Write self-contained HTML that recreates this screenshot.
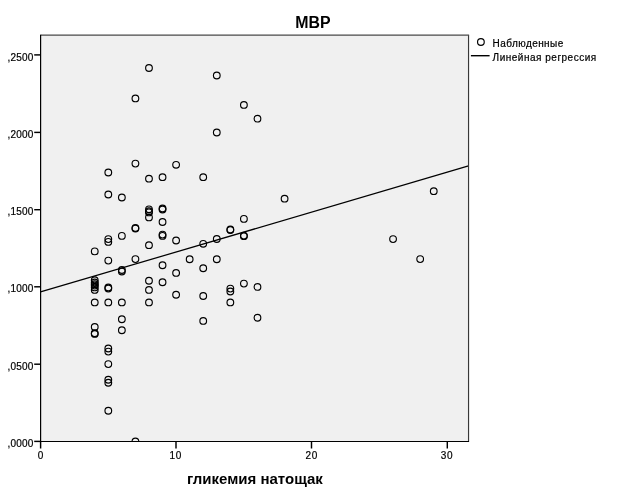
<!DOCTYPE html>
<html lang="ru"><head><meta charset="utf-8"><title>МВР</title>
<style>
html,body{margin:0;padding:0;background:#fff;}
svg{display:block;will-change:transform;font-family:"Liberation Sans",Arial,sans-serif;}
</style></head><body>
<svg width="626" height="501" viewBox="0 0 626 501">
<rect x="0" y="0" width="626" height="501" fill="#fff"/>
<rect x="40.5" y="35.2" width="428" height="406.3" fill="#f0f0f0"/>
<defs><clipPath id="pc"><rect x="40.5" y="35.2" width="428" height="406.3"/></clipPath></defs>
<g clip-path="url(#pc)" fill="none" stroke="#000" stroke-width="1.15">
<circle cx="94.74" cy="251.4" r="3.35"/>
<circle cx="94.74" cy="280.2" r="3.35"/>
<circle cx="94.74" cy="282.5" r="3.35"/>
<circle cx="94.74" cy="284.3" r="3.35"/>
<circle cx="94.74" cy="285.6" r="3.35"/>
<circle cx="94.74" cy="287.4" r="3.35"/>
<circle cx="94.74" cy="289.9" r="3.35"/>
<circle cx="94.74" cy="302.4" r="3.35"/>
<circle cx="94.74" cy="327.0" r="3.35"/>
<circle cx="94.74" cy="333.3" r="3.35"/>
<circle cx="94.74" cy="333.9" r="3.35"/>
<circle cx="108.30" cy="172.5" r="3.35"/>
<circle cx="108.30" cy="194.5" r="3.35"/>
<circle cx="108.30" cy="239.1" r="3.35"/>
<circle cx="108.30" cy="241.9" r="3.35"/>
<circle cx="108.30" cy="260.6" r="3.35"/>
<circle cx="108.30" cy="287.4" r="3.35"/>
<circle cx="108.30" cy="288.5" r="3.35"/>
<circle cx="108.30" cy="302.4" r="3.35"/>
<circle cx="108.30" cy="348.5" r="3.35"/>
<circle cx="108.30" cy="351.6" r="3.35"/>
<circle cx="108.30" cy="364.1" r="3.35"/>
<circle cx="108.30" cy="379.7" r="3.35"/>
<circle cx="108.30" cy="382.8" r="3.35"/>
<circle cx="108.30" cy="410.7" r="3.35"/>
<circle cx="121.86" cy="197.5" r="3.35"/>
<circle cx="121.86" cy="235.9" r="3.35"/>
<circle cx="121.86" cy="270.0" r="3.35"/>
<circle cx="121.86" cy="271.5" r="3.35"/>
<circle cx="121.86" cy="302.4" r="3.35"/>
<circle cx="121.86" cy="319.2" r="3.35"/>
<circle cx="121.86" cy="330.3" r="3.35"/>
<circle cx="135.42" cy="98.4" r="3.35"/>
<circle cx="135.42" cy="163.6" r="3.35"/>
<circle cx="135.42" cy="228.0" r="3.35"/>
<circle cx="135.42" cy="228.6" r="3.35"/>
<circle cx="135.42" cy="259.1" r="3.35"/>
<circle cx="135.42" cy="441.5" r="3.35"/>
<circle cx="148.98" cy="68.0" r="3.35"/>
<circle cx="148.98" cy="178.7" r="3.35"/>
<circle cx="148.98" cy="209.3" r="3.35"/>
<circle cx="148.98" cy="211.2" r="3.35"/>
<circle cx="148.98" cy="212.4" r="3.35"/>
<circle cx="148.98" cy="217.4" r="3.35"/>
<circle cx="148.98" cy="245.2" r="3.35"/>
<circle cx="148.98" cy="280.8" r="3.35"/>
<circle cx="148.98" cy="289.9" r="3.35"/>
<circle cx="148.98" cy="302.4" r="3.35"/>
<circle cx="162.54" cy="177.2" r="3.35"/>
<circle cx="162.54" cy="208.5" r="3.35"/>
<circle cx="162.54" cy="209.5" r="3.35"/>
<circle cx="162.54" cy="222.0" r="3.35"/>
<circle cx="162.54" cy="234.6" r="3.35"/>
<circle cx="162.54" cy="235.9" r="3.35"/>
<circle cx="162.54" cy="265.3" r="3.35"/>
<circle cx="162.54" cy="282.3" r="3.35"/>
<circle cx="176.10" cy="164.8" r="3.35"/>
<circle cx="176.10" cy="240.5" r="3.35"/>
<circle cx="176.10" cy="272.9" r="3.35"/>
<circle cx="176.10" cy="294.7" r="3.35"/>
<circle cx="189.66" cy="259.2" r="3.35"/>
<circle cx="203.22" cy="177.2" r="3.35"/>
<circle cx="203.22" cy="243.8" r="3.35"/>
<circle cx="203.22" cy="268.3" r="3.35"/>
<circle cx="203.22" cy="296.0" r="3.35"/>
<circle cx="203.22" cy="320.9" r="3.35"/>
<circle cx="216.78" cy="75.5" r="3.35"/>
<circle cx="216.78" cy="132.5" r="3.35"/>
<circle cx="216.78" cy="239.0" r="3.35"/>
<circle cx="216.78" cy="259.3" r="3.35"/>
<circle cx="230.34" cy="229.5" r="3.35"/>
<circle cx="230.34" cy="230.1" r="3.35"/>
<circle cx="230.34" cy="288.6" r="3.35"/>
<circle cx="230.34" cy="291.5" r="3.35"/>
<circle cx="230.34" cy="302.4" r="3.35"/>
<circle cx="243.90" cy="104.9" r="3.35"/>
<circle cx="243.90" cy="218.9" r="3.35"/>
<circle cx="243.90" cy="235.6" r="3.35"/>
<circle cx="243.90" cy="236.2" r="3.35"/>
<circle cx="243.90" cy="283.6" r="3.35"/>
<circle cx="257.46" cy="118.7" r="3.35"/>
<circle cx="257.46" cy="286.9" r="3.35"/>
<circle cx="257.46" cy="317.7" r="3.35"/>
<circle cx="284.58" cy="198.7" r="3.35"/>
<circle cx="393.06" cy="239.1" r="3.35"/>
<circle cx="420.18" cy="259.1" r="3.35"/>
<circle cx="433.74" cy="191.2" r="3.35"/>
<line x1="40.5" y1="291.95" x2="468.5" y2="165.9" stroke-width="1.25"/>
</g>
<g fill="none">
<line x1="40.5" y1="35.2" x2="469.1" y2="35.2" stroke="#484848" stroke-width="1.3"/>
<line x1="468.55" y1="35.2" x2="468.55" y2="442" stroke="#383838" stroke-width="1.15"/>
<line x1="40.6" y1="34.7" x2="40.6" y2="442" stroke="#000" stroke-width="1.2"/>
<line x1="40" y1="441.5" x2="469" y2="441.5" stroke="#000" stroke-width="1.2"/>
</g>
<g stroke="#000" stroke-width="1.45"><line x1="34.2" y1="54.9" x2="40.5" y2="54.9"/><line x1="34.2" y1="132.4" x2="40.5" y2="132.4"/><line x1="34.2" y1="209.7" x2="40.5" y2="209.7"/><line x1="34.2" y1="286.8" x2="40.5" y2="286.8"/><line x1="34.2" y1="364.2" x2="40.5" y2="364.2"/><line x1="34.2" y1="441.4" x2="40.5" y2="441.4"/><line x1="40.6" y1="441.5" x2="40.6" y2="448.5"/><line x1="176.0" y1="441.5" x2="176.0" y2="448.5"/><line x1="311.5" y1="441.5" x2="311.5" y2="448.5"/><line x1="447.3" y1="441.5" x2="447.3" y2="448.5"/></g>
<g font-size="10px" fill="#000" stroke="#000" stroke-width="0.2"><text x="33.4" y="60.8" text-anchor="end" textLength="26" lengthAdjust="spacing">,2500</text><text x="33.4" y="137.8" text-anchor="end" textLength="26" lengthAdjust="spacing">,2000</text><text x="33.4" y="214.8" text-anchor="end" textLength="26" lengthAdjust="spacing">,1500</text><text x="33.4" y="291.8" text-anchor="end" textLength="26" lengthAdjust="spacing">,1000</text><text x="33.4" y="369.8" text-anchor="end" textLength="26" lengthAdjust="spacing">,0500</text><text x="33.4" y="446.8" text-anchor="end" textLength="26" lengthAdjust="spacing">,0000</text><text x="40.6" y="458.9" text-anchor="middle">0</text><text x="175.4" y="458.9" text-anchor="middle" textLength="11.8" lengthAdjust="spacing">10</text><text x="311.4" y="458.9" text-anchor="middle" textLength="11.8" lengthAdjust="spacing">20</text><text x="446.6" y="458.9" text-anchor="middle" textLength="11.8" lengthAdjust="spacing">30</text>
<text x="492.6" y="46.8" textLength="70.6" lengthAdjust="spacing">Наблюденные</text>
<text x="492.6" y="60.6" textLength="103.6" lengthAdjust="spacing">Линейная регрессия</text>
</g>
<circle cx="480.9" cy="41.95" r="3.35" fill="none" stroke="#000" stroke-width="1.15"/>
<line x1="470.9" y1="55.7" x2="489.6" y2="55.7" stroke="#000" stroke-width="1.4"/>
<text transform="translate(312.9 27.85) scale(0.97 1)" x="0" y="0" text-anchor="middle" font-size="16.4px" font-weight="bold" fill="#000">МВР</text>
<text x="254.9" y="484" text-anchor="middle" font-size="15px" font-weight="bold" fill="#000">гликемия натощак</text>
</svg>
</body></html>
